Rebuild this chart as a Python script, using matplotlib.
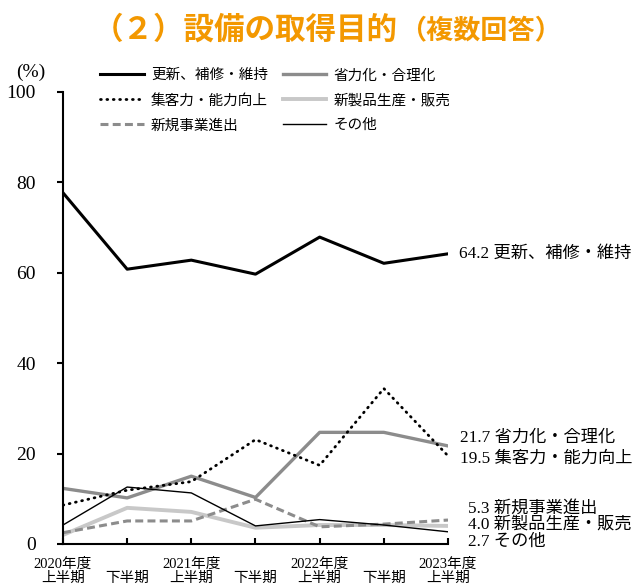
import matplotlib.pyplot as plt

# 日本語フォント(数字はセリフ体、漢字はNoto)
plt.rcParams["font.family"] = ["Liberation Serif", "Noto Sans CJK JP"]
plt.rcParams["axes.unicode_minus"] = False

# データ
periods = [
    "2020年度\n上半期", "\n下半期",
    "2021年度\n上半期", "\n下半期",
    "2022年度\n上半期", "\n下半期",
    "2023年度\n上半期",
]
koushin = [77.7, 60.8, 62.8, 59.7, 67.9, 62.1, 64.2]      # 更新、補修・維持
shouryoku = [12.3, 10.2, 15.0, 10.3, 24.7, 24.7, 21.7]    # 省力化・合理化
shukyaku = [8.6, 11.9, 13.8, 23.1, 17.4, 34.4, 19.5]      # 集客力・能力向上
shinseihin = [2.0, 8.0, 7.1, 3.6, 4.2, 4.2, 4.0]          # 新製品生産・販売
shinki = [2.5, 5.1, 5.1, 9.9, 3.8, 4.4, 5.3]              # 新規事業進出
sonota = [4.2, 12.6, 11.3, 4.0, 5.4, 4.2, 2.7]            # その他
yticks = [0, 20, 40, 60, 80, 100]

x = list(range(len(periods)))

fig = plt.figure(figsize=(6.32, 5.85), dpi=100)
ax = fig.add_axes([63 / 632, 41 / 585, 385 / 632, 452 / 585])

# 系列ごとの線
series = [
    ("更新、補修・維持", koushin, dict(color="black", lw=2.2)),
    ("省力化・合理化", shouryoku, dict(color="#8c8c8c", lw=2.4)),
    ("集客力・能力向上", shukyaku, dict(color="black", lw=2.0, linestyle=(0, (0.3, 2.0)), dash_capstyle="round")),
    ("新製品生産・販売", shinseihin, dict(color="#c8c8c8", lw=2.8)),
    ("新規事業進出", shinki, dict(color="#8c8c8c", lw=2.2, linestyle=(0, (2.6, 1.4)))),
    ("その他", sonota, dict(color="black", lw=1.0)),
]
handles = {}
for name, vals, style in series:
    (ln,) = ax.plot(x, vals, **style)
    handles[name] = ln

ax.set_xlim(0, 6)
ax.set_ylim(0, 100)
ax.set_xticks(x)
ax.set_xticklabels(periods, fontsize=10.5, linespacing=1.1)
ax.set_yticks(yticks)
ax.set_yticklabels([str(v) for v in yticks], fontsize=14)
ax.tick_params(axis="x", direction="in", length=4, width=1.5, pad=10)
ax.tick_params(axis="y", direction="out", length=4, width=1.5, pad=15.5)
for side in ["top", "right"]:
    ax.spines[side].set_visible(False)
for side in ["left", "bottom"]:
    ax.spines[side].set_linewidth(1.5)

# 右端のラベル (値 + 系列名)
end_labels = [
    ("更新、補修・維持", koushin, 11, 0),
    ("省力化・合理化", shouryoku, 12, 8),
    ("集客力・能力向上", shukyaku, 12, -3),
    ("新規事業進出", shinki, 20, 11),
    ("新製品生産・販売", shinseihin, 20, 1),
    ("その他", sonota, 20, -10),
]
for name, vals, dx, dy in end_labels:
    ax.annotate(f"{vals[-1]:.1f} {name}", xy=(x[-1], vals[-1]), xytext=(dx, dy),
                textcoords="offset pixels", ha="left", va="center",
                fontsize=12.4, annotation_clip=False)

fig.text(31 / 632, 1 - 72 / 585, "(%)", fontsize=14, ha="center", va="center")

# 凡例 (2列)
order = ["更新、補修・維持", "集客力・能力向上", "新規事業進出",
         "省力化・合理化", "新製品生産・販売", "その他"]
fig.legend([handles[n] for n in order], order, ncol=2, loc="upper left",
           bbox_to_anchor=(100 / 632, 1 - 69 / 585), frameon=False,
           fontsize=10.5, handlelength=3.0, handletextpad=0.5,
           columnspacing=1.0, labelspacing=0.78, borderpad=0, borderaxespad=0)

# タイトル
fig.text(398 / 632, 1 - 39 / 585, "（２）設備の取得目的", fontsize=22,
         fontweight="bold", color="#f39800", ha="right", va="baseline",
         family="Noto Sans CJK JP")
fig.text(399 / 632, 1 - 39 / 585, "（複数回答）", fontsize=19.5,
         fontweight="bold", color="#f39800", ha="left", va="baseline",
         family="Noto Sans CJK JP")

fig.savefig("out.png", dpi=100)
